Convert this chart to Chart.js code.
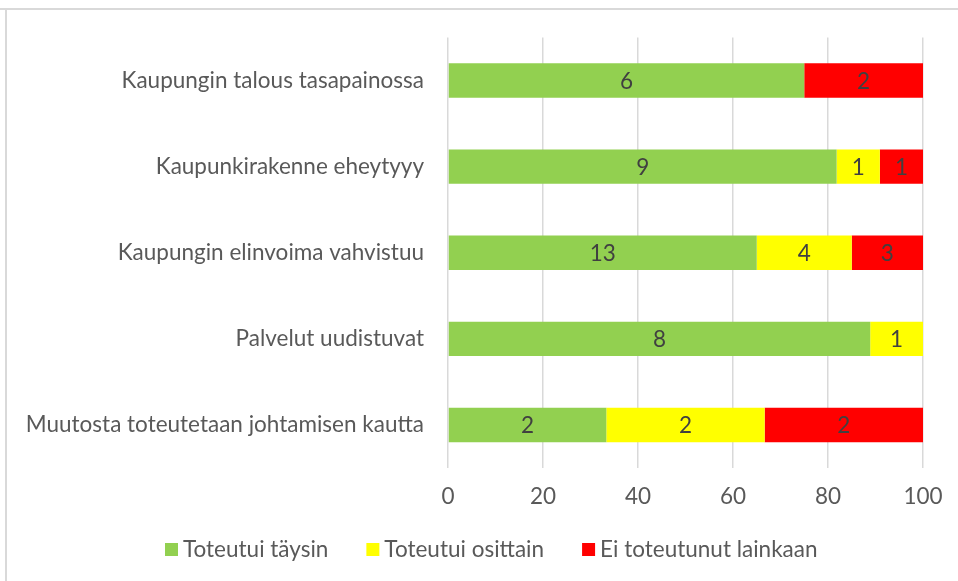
<!DOCTYPE html>
<html>
<head>
<meta charset="utf-8">
<script src="https://cdn.jsdelivr.net/npm/chart.js@4.4.0/dist/chart.umd.min.js"></script>
<style>
  html, body { margin: 0; padding: 0; background: #fff; }
  #wrap { position: relative; width: 958px; height: 581px; }
</style>
</head>
<body>
<div id="wrap"><canvas id="tavoitteet" width="958" height="581"></canvas></div>
<script>
// kategoriat ja lukumäärät
var kategoriat = ['Kaupungin talous tasapainossa', 'Kaupunkirakenne eheytyyy', 'Kaupungin elinvoima vahvistuu', 'Palvelut uudistuvat', 'Muutosta toteutetaan johtamisen kautta'];
var taysin = [6, 9, 13, 8, 2];
var osittain = [0, 1, 4, 1, 2];
var eiLainkaan = [2, 1, 3, 0, 2];
var xTicks = [0, 20, 40, 60, 80, 100];

var sarjat = [
    { label: 'Toteutui täysin', counts: taysin, color: '#92D050' },
    { label: 'Toteutui osittain', counts: osittain, color: '#FFFF00' },
    { label: 'Ei toteutunut lainkaan', counts: eiLainkaan, color: '#FF0000' }
];

// prosenttiosuudet 100% pinottua pylvästä varten
function prosentit(counts) {
    return counts.map(function (v, i) {
        var sum = taysin[i] + osittain[i] + eiLainkaan[i];
        return v / sum * 100;
    });
}

var fontti = 'Lato, "Open Sans", sans-serif';
var koko = 22.5;

// kehys
var kehys = {
    id: 'kehys',
    beforeDraw: function (chart) {
        var c = chart.ctx;
        c.save();
        c.strokeStyle = '#d9d9d9';
        c.lineWidth = 2;
        c.beginPath();
        c.moveTo(0, 9); c.lineTo(958, 9);
        c.moveTo(6, 9); c.lineTo(6, 581);
        c.stroke();
        c.restore();
    }
};

// arvot pylväiden sisään (lukumäärät)
var arvot = {
    id: 'arvot',
    afterDatasetsDraw: function (chart) {
        var c = chart.ctx;
        c.save();
        c.font = koko + 'px ' + fontti;
        c.fillStyle = '#404040';
        c.textAlign = 'center';
        c.textBaseline = 'middle';
        chart.data.datasets.forEach(function (ds, di) {
            chart.getDatasetMeta(di).data.forEach(function (bar, i) {
                var n = ds.counts[i];
                if (!n) return;
                c.fillText(String(n), (bar.x + bar.base) / 2, bar.y + 1);
            });
        });
        c.restore();
    }
};

// selite alas, Excelin tapaan
var selite = {
    id: 'selite',
    afterDraw: function (chart) {
        var c = chart.ctx;
        c.save();
        c.font = koko + 'px ' + fontti;
        c.textBaseline = 'middle';
        c.textAlign = 'left';
        var x = 165, y = 549;
        chart.data.datasets.forEach(function (ds) {
            c.fillStyle = ds.backgroundColor;
            c.fillRect(x, y - 6, 13, 13);
            c.fillStyle = '#595959';
            c.fillText(ds.label, x + 18, y + 1);
            x += 18 + c.measureText(ds.label).width + 38;
        });
        c.restore();
    }
};

var ctx = document.getElementById('tavoitteet');
var chart = new Chart(ctx, {
    type: 'bar',
    data: {
        labels: kategoriat,
        datasets: sarjat.map(function (s) {
            return {
                label: s.label,
                counts: s.counts,
                data: prosentit(s.counts),
                backgroundColor: s.color,
                borderWidth: 0,
                categoryPercentage: 1,
                barPercentage: 0.4
            };
        })
    },
    options: {
        indexAxis: 'y',
        responsive: false,
        animation: false,
        layout: { padding: { top: 37, right: 35, bottom: 56, left: 0 } },
        scales: {
            x: {
                stacked: true,
                min: 0, max: 100,
                afterBuildTicks: function (axis) {
                    axis.ticks = xTicks.map(function (v) { return { value: v }; });
                },
                grid: { color: '#d9d9d9', lineWidth: 1.5, drawTicks: false },
                border: { display: false },
                ticks: { color: '#595959', font: { family: fontti, size: koko }, padding: 15, maxRotation: 0 }
            },
            y: {
                stacked: true,
                grid: { display: false, drawTicks: false },
                border: { display: false },
                afterFit: function (axis) { axis.width = 448; },
                ticks: { color: '#595959', font: { family: fontti, size: koko }, padding: 24 }
            }
        },
        plugins: {
            legend: { display: false },
            tooltip: { enabled: false }
        }
    },
    plugins: [kehys, arvot, selite]
});
</script>
</body>
</html>
